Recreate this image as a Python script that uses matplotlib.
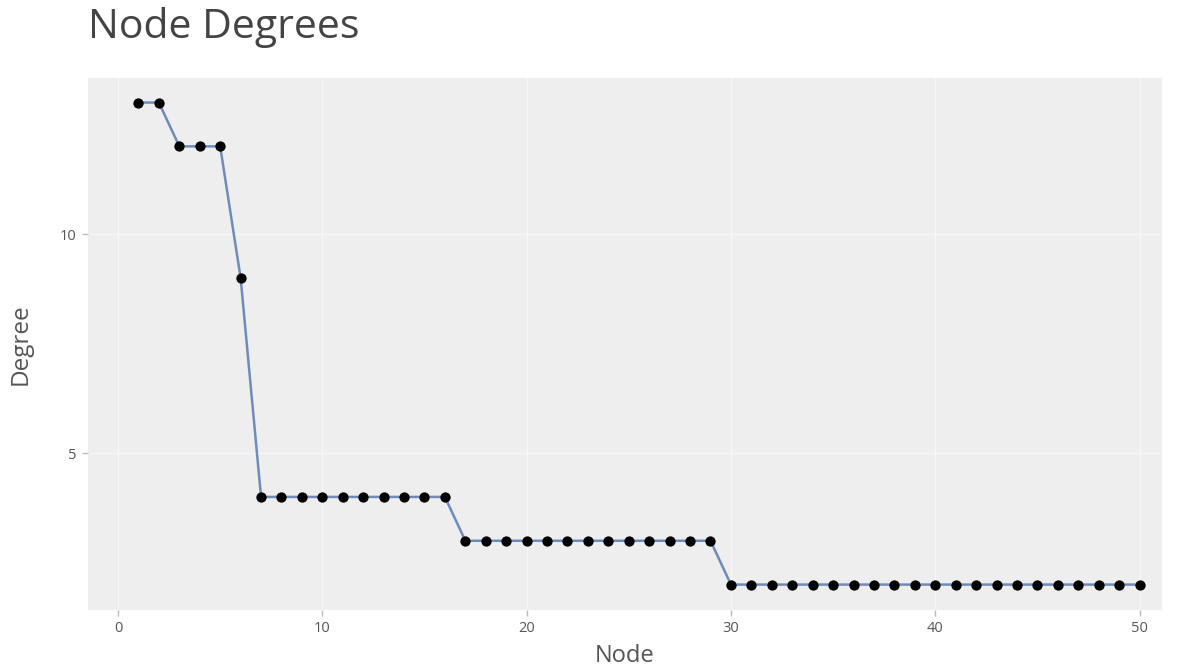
import matplotlib
matplotlib.use("Agg")
import matplotlib.pyplot as plt

nodes = list(range(1, 51))
degrees = [13, 13, 12, 12, 12, 9] + [4] * 10 + [3] * 13 + [2] * 21

x_ticks = [0, 10, 20, 30, 40, 50]
y_ticks = [5, 10]

plt.rcParams['font.family'] = ['Open Sans', 'DejaVu Sans']

W, H = 1190, 670
fig = plt.figure(figsize=(W / 100, H / 100), dpi=100)
L, R, T, B = 88, 1162, 78, 610
ax = fig.add_axes([L / W, 1 - B / H, (R - L) / W, (B - T) / H])
ax.set_facecolor('#EEEEEE')

ax.plot(nodes, degrees, color='#6F8BBA', linewidth=1.8, zorder=3)
ax.scatter(nodes, degrees, s=55, color='black', zorder=4, linewidths=0)

ax.set_xlim(-1.47, 51.1)
ax.set_ylim(1.42, 13.56)
ax.set_xticks(x_ticks)
ax.set_yticks(y_ticks)
ax.grid(True, color='#F7F7F7', linewidth=1)
ax.set_axisbelow(True)
for s in ax.spines.values():
    s.set_visible(False)
ax.tick_params(axis='both', length=4, width=1, color='#BBBBBB', labelcolor='#555555',
               labelsize=10.5, pad=4)

ax.set_xlabel('Node', fontsize=17, color='#555555', labelpad=6)
ax.set_ylabel('Degree', fontsize=17.5, color='#555555', labelpad=20)
fig.text(88 / W, 1 - 28 / H, 'Node Degrees', fontsize=29.5, color='#444444', va='center', ha='left')

fig.savefig('out.png', dpi=100)
